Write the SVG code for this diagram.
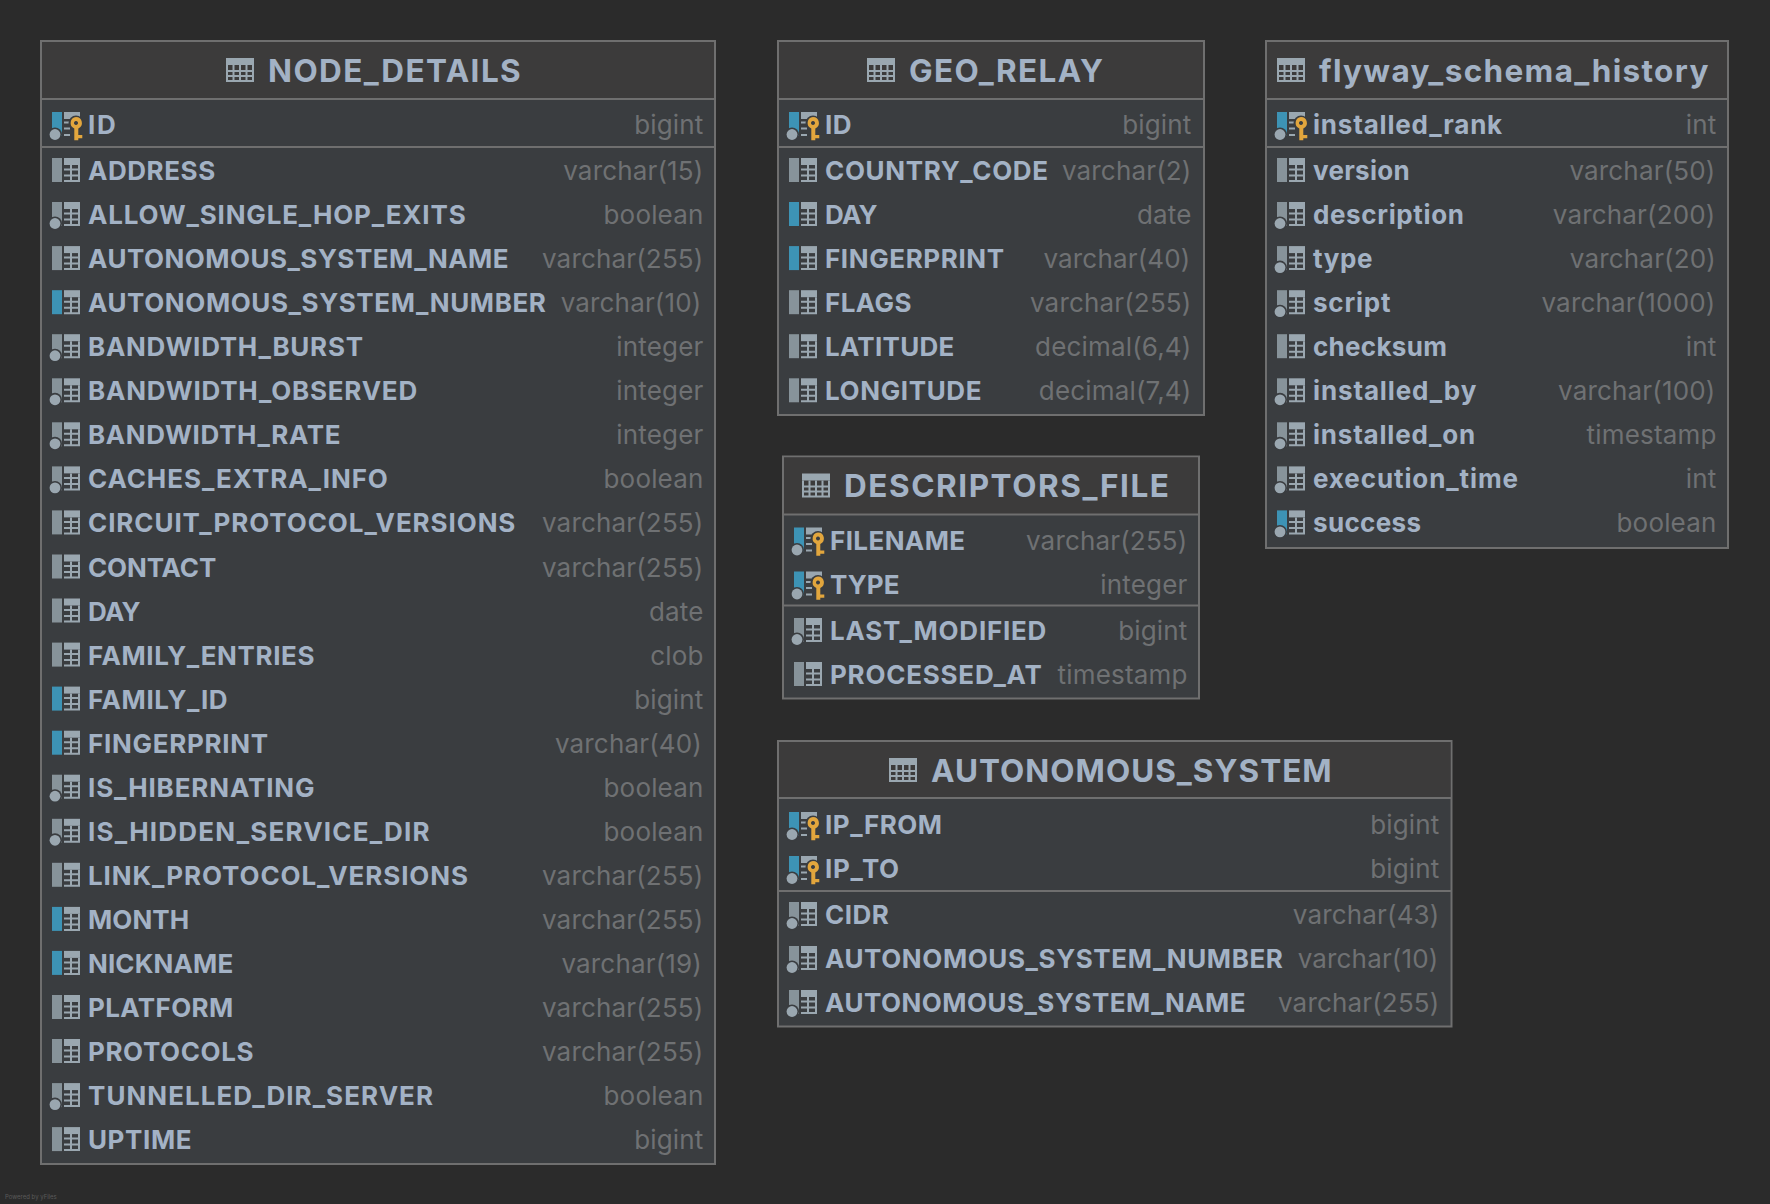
<svg xmlns="http://www.w3.org/2000/svg" width="1770" height="1204" viewBox="0 0 1770 1204">
<style>
.bg{fill:#2b2b2b}
.body{fill:#3a3d40;stroke:#6f6f6f;stroke-width:2}
.head{fill:#3c3b3b}
.sep{stroke:#6f6f6f;stroke-width:2;fill:none}
text{font-family:Inter,"Liberation Sans",sans-serif}
.t{font-size:31.5px;font-weight:700;fill:#a3b2c5;letter-spacing:1.25px}
.n{font-size:26px;font-weight:700;fill:#a3b2c5;letter-spacing:.4px}
.y{font-size:26px;font-weight:400;fill:#6f7173;text-anchor:end;letter-spacing:.17px;transform:translateX(.5px)}
.f{font-size:6px;fill:#5a5a5a}
</style>
<defs>
<g id="grid">
<path d="M12-12h16v7h-16z" fill="#9aa7b0"/>
<path d="M18 -5h2v17h-2zM26 -5h2v17h-2zM12 -1.500h16v2h-16zM12 4.500h16v2h-16zM12 10h16v2h-16z" fill="#9aa7b0"/>
</g>
<g id="plain"><rect x="0" y="-12" width="10" height="24" fill="#87939a"/><use href="#grid"/></g>
<g id="blue"><rect x="0" y="-12" width="10" height="24" fill="#3d93b5"/><use href="#grid"/></g>
<g id="dot"><rect x="0" y="-12" width="10" height="24" fill="#87939a"/><use href="#grid"/><circle cx="3" cy="9.500" r="7" fill="#3a3d40"/><circle cx="3" cy="9.500" r="5.400" fill="#9aa7b0"/></g>
<g id="bluedot"><rect x="0" y="-12" width="10" height="24" fill="#3d93b5"/><use href="#grid"/><circle cx="3" cy="9.500" r="7" fill="#3a3d40"/><circle cx="3" cy="9.500" r="5.400" fill="#9aa7b0"/></g>
<g id="pk"><rect x="0" y="-13" width="10" height="24" fill="#3d93b5"/><path d="M12-13h16v7h-16zM12-3.500h6v2h-6zM12 2.500h6v2h-6zM12 9h6v2h-6z" fill="#9aa7b0"/><circle cx="3" cy="9.500" r="7" fill="#3a3d40"/><circle cx="3" cy="9.500" r="5.400" fill="#9aa7b0"/><circle cx="24" cy="-2" r="7.500" fill="#3a3d40"/><path d="M24-8a6 6 0 0 1 2.300 11.500v6.500h4v3.300h-4v2h-4v-11.800a6 6 0 0 1 1.700-11.500zM24-4a2 2 0 1 0 .01 0z" fill="#e2a63d" fill-rule="evenodd"/></g>
<g id="tbl"><path d="M0 0h28v7h-28z" fill="#9aa7b0"/><path d="M0 7h2v16h-2zM6.500 7h2v16h-2zM13 7h2v16h-2zM19.500 7h2v16h-2zM26 7h2v16h-2zM0 12h28v2h-28zM0 17h28v2h-28zM0 22h28v2h-28z" fill="#9aa7b0"/></g>
</defs>
<rect class="bg" width="1770" height="1204"/>
<g id="connectors"/>
<g id="NODE_DETAILS">
<rect class="body" x="41" y="41" width="674" height="1123"/><rect class="head" x="42" y="42" width="672" height="57"/><path class="sep" d="M41 99H715M41 147H715"/>
<use href="#tbl" x="226" y="58"/><text class="t" x="268" y="82" textLength="254">NODE_DETAILS</text>
<use href="#pk" x="52" y="125"/><text class="n" x="88" y="134" textLength="28.200">ID</text><text class="y" x="703" y="134">bigint</text>
<use href="#plain" x="52" y="170"/><text class="n" x="88" y="180" textLength="127.600">ADDRESS</text><text class="y" x="703" y="180">varchar(15)</text>
<use href="#dot" x="52" y="214"/><text class="n" x="88" y="224" textLength="378.100">ALLOW_SINGLE_HOP_EXITS</text><text class="y" x="703" y="224">boolean</text>
<use href="#plain" x="52" y="258.100"/><text class="n" x="88" y="268.100" textLength="421">AUTONOMOUS_SYSTEM_NAME</text><text class="y" x="703" y="268.100">varchar(255)</text>
<use href="#blue" x="52" y="302.200"/><text class="n" x="88" y="312.200" textLength="458.300">AUTONOMOUS_SYSTEM_NUMBER</text><text class="y" x="701" y="312.200">varchar(10)</text>
<use href="#dot" x="52" y="346.200"/><text class="n" x="88" y="356.200" textLength="275.400">BANDWIDTH_BURST</text><text class="y" x="703" y="356.200">integer</text>
<use href="#dot" x="52" y="390.300"/><text class="n" x="88" y="400.300" textLength="329.600">BANDWIDTH_OBSERVED</text><text class="y" x="703" y="400.300">integer</text>
<use href="#dot" x="52" y="434.300"/><text class="n" x="88" y="444.300" textLength="252.900">BANDWIDTH_RATE</text><text class="y" x="703" y="444.300">integer</text>
<use href="#dot" x="52" y="478.400"/><text class="n" x="88" y="488.400" textLength="300.300">CACHES_EXTRA_INFO</text><text class="y" x="703" y="488.400">boolean</text>
<use href="#plain" x="52" y="522.400"/><text class="n" x="88" y="532.400" textLength="427.800">CIRCUIT_PROTOCOL_VERSIONS</text><text class="y" x="703" y="532.400">varchar(255)</text>
<use href="#plain" x="52" y="566.500"/><text class="n" x="88" y="576.500" textLength="128.700">CONTACT</text><text class="y" x="703" y="576.500">varchar(255)</text>
<use href="#plain" x="52" y="610.500"/><text class="n" x="88" y="620.500" textLength="53">DAY</text><text class="y" x="703" y="620.500">date</text>
<use href="#plain" x="52" y="654.600"/><text class="n" x="88" y="664.600" textLength="226.900">FAMILY_ENTRIES</text><text class="y" x="703" y="664.600">clob</text>
<use href="#blue" x="52" y="698.600"/><text class="n" x="88" y="708.600" textLength="140">FAMILY_ID</text><text class="y" x="703" y="708.600">bigint</text>
<use href="#blue" x="52" y="742.700"/><text class="n" x="88" y="752.700" textLength="180.600">FINGERPRINT</text><text class="y" x="701.500" y="752.700">varchar(40)</text>
<use href="#dot" x="52" y="786.700"/><text class="n" x="88" y="796.700" textLength="226.900">IS_HIBERNATING</text><text class="y" x="703" y="796.700">boolean</text>
<use href="#dot" x="52" y="830.800"/><text class="n" x="88" y="840.800" textLength="342">IS_HIDDEN_SERVICE_DIR</text><text class="y" x="703" y="840.800">boolean</text>
<use href="#plain" x="52" y="874.800"/><text class="n" x="88" y="884.800" textLength="380.400">LINK_PROTOCOL_VERSIONS</text><text class="y" x="703" y="884.800">varchar(255)</text>
<use href="#blue" x="52" y="918.900"/><text class="n" x="88" y="928.900" textLength="101.600">MONTH</text><text class="y" x="703" y="928.900">varchar(255)</text>
<use href="#blue" x="52" y="962.900"/><text class="n" x="88" y="972.900" textLength="145.600">NICKNAME</text><text class="y" x="701.500" y="972.900">varchar(19)</text>
<use href="#plain" x="52" y="1007"/><text class="n" x="88" y="1017" textLength="145.600">PLATFORM</text><text class="y" x="703" y="1017">varchar(255)</text>
<use href="#plain" x="52" y="1051"/><text class="n" x="88" y="1061" textLength="165.900">PROTOCOLS</text><text class="y" x="703" y="1061">varchar(255)</text>
<use href="#dot" x="52" y="1095.100"/><text class="n" x="88" y="1105.100" textLength="345.400">TUNNELLED_DIR_SERVER</text><text class="y" x="703" y="1105.100">boolean</text>
<use href="#plain" x="52" y="1139.100"/><text class="n" x="88" y="1149.100" textLength="103.900">UPTIME</text><text class="y" x="703" y="1149.100">bigint</text>
</g>
<g id="GEO_RELAY">
<rect class="body" x="778" y="41" width="426" height="374"/><rect class="head" x="779" y="42" width="424" height="57"/><path class="sep" d="M778 99H1204M778 147H1204"/>
<use href="#tbl" x="867" y="58"/><text class="t" x="909" y="82" textLength="195.300">GEO_RELAY</text>
<use href="#pk" x="789" y="125"/><text class="n" x="825" y="134" textLength="27">ID</text><text class="y" x="1191" y="134">bigint</text>
<use href="#plain" x="789" y="170"/><text class="n" x="825" y="180" textLength="223.500">COUNTRY_CODE</text><text class="y" x="1191" y="180">varchar(2)</text>
<use href="#blue" x="789" y="214"/><text class="n" x="825" y="224" textLength="53">DAY</text><text class="y" x="1191" y="224">date</text>
<use href="#blue" x="789" y="258.100"/><text class="n" x="825" y="268.100" textLength="179.500">FINGERPRINT</text><text class="y" x="1190" y="268.100">varchar(40)</text>
<use href="#plain" x="789" y="302.200"/><text class="n" x="825" y="312.200" textLength="86.900">FLAGS</text><text class="y" x="1191" y="312.200">varchar(255)</text>
<use href="#plain" x="789" y="346.200"/><text class="n" x="825" y="356.200" textLength="129.800">LATITUDE</text><text class="y" x="1191" y="356.200">decimal(6,4)</text>
<use href="#plain" x="789" y="390.300"/><text class="n" x="825" y="400.300" textLength="156.900">LONGITUDE</text><text class="y" x="1191" y="400.300">decimal(7,4)</text>
</g>
<g id="DESCRIPTORS_FILE">
<rect class="body" x="783" y="456.500" width="416" height="242"/><rect class="head" x="784" y="457.500" width="414" height="57"/><path class="sep" d="M783 514.500H1199M783 605.500H1199"/>
<use href="#tbl" x="802" y="473.500"/><text class="t" x="844" y="497" textLength="326.200">DESCRIPTORS_FILE</text>
<use href="#pk" x="794" y="540.500"/><text class="n" x="830" y="549.500" textLength="135.500">FILENAME</text><text class="y" x="1187" y="549.500">varchar(255)</text>
<use href="#pk" x="794" y="584.500"/><text class="n" x="830" y="593.500" textLength="70">TYPE</text><text class="y" x="1187" y="593.500">integer</text>
<use href="#dot" x="794" y="630"/><text class="n" x="830" y="640" textLength="216.700">LAST_MODIFIED</text><text class="y" x="1187" y="640">bigint</text>
<use href="#plain" x="794" y="674"/><text class="n" x="830" y="684" textLength="212.200">PROCESSED_AT</text><text class="y" x="1187" y="684">timestamp</text>
</g>
<g id="AUTONOMOUS_SYSTEM">
<rect class="body" x="778" y="741" width="673.500" height="285.500"/><rect class="head" x="779" y="742" width="671.500" height="56"/><path class="sep" d="M778 798H1451.500M778 891H1451.500"/>
<use href="#tbl" x="889" y="758"/><text class="t" x="931" y="782" textLength="401.900">AUTONOMOUS_SYSTEM</text>
<use href="#pk" x="789" y="825"/><text class="n" x="825" y="834" textLength="117.400">IP_FROM</text><text class="y" x="1439" y="834">bigint</text>
<use href="#pk" x="789" y="869"/><text class="n" x="825" y="878" textLength="74.500">IP_TO</text><text class="y" x="1439" y="878">bigint</text>
<use href="#dot" x="789" y="914"/><text class="n" x="825" y="924" textLength="64.300">CIDR</text><text class="y" x="1439" y="924">varchar(43)</text>
<use href="#dot" x="789" y="958"/><text class="n" x="825" y="968" textLength="458.300">AUTONOMOUS_SYSTEM_NUMBER</text><text class="y" x="1438" y="968">varchar(10)</text>
<use href="#dot" x="789" y="1002"/><text class="n" x="825" y="1012" textLength="421">AUTONOMOUS_SYSTEM_NAME</text><text class="y" x="1439" y="1012">varchar(255)</text>
</g>
<g id="flyway_schema_history">
<rect class="body" x="1266" y="41" width="462" height="507"/><rect class="head" x="1267" y="42" width="460" height="57"/><path class="sep" d="M1266 99H1728M1266 147H1728"/>
<use href="#tbl" x="1277" y="58"/><text class="t" x="1319" y="82" textLength="390.600">flyway_schema_history</text>
<use href="#pk" x="1277" y="125"/><text class="n" x="1313" y="134" textLength="189.600">installed_rank</text><text class="y" x="1716" y="134">int</text>
<use href="#plain" x="1277" y="170"/><text class="n" x="1313" y="180" textLength="97.100">version</text><text class="y" x="1715" y="180">varchar(50)</text>
<use href="#dot" x="1277" y="214"/><text class="n" x="1313" y="224" textLength="151.300">description</text><text class="y" x="1715" y="224">varchar(200)</text>
<use href="#dot" x="1277" y="258.100"/><text class="n" x="1313" y="268.100" textLength="59.800">type</text><text class="y" x="1715.500" y="268.100">varchar(20)</text>
<use href="#dot" x="1277" y="302.200"/><text class="n" x="1313" y="312.200" textLength="77.900">script</text><text class="y" x="1715" y="312.200">varchar(1000)</text>
<use href="#plain" x="1277" y="346.200"/><text class="n" x="1313" y="356.200" textLength="134.300">checksum</text><text class="y" x="1716" y="356.200">int</text>
<use href="#dot" x="1277" y="390.300"/><text class="n" x="1313" y="400.300" textLength="163.700">installed_by</text><text class="y" x="1715" y="400.300">varchar(100)</text>
<use href="#dot" x="1277" y="434.300"/><text class="n" x="1313" y="444.300" textLength="162.600">installed_on</text><text class="y" x="1716" y="444.300">timestamp</text>
<use href="#dot" x="1277" y="478.400"/><text class="n" x="1313" y="488.400" textLength="205.400">execution_time</text><text class="y" x="1716" y="488.400">int</text>
<use href="#bluedot" x="1277" y="522.400"/><text class="n" x="1313" y="532.400" textLength="108.400">success</text><text class="y" x="1716" y="532.400">boolean</text>
</g>
<text class="f" x="5" y="1198.500">Powered by yFiles</text>
</svg>
